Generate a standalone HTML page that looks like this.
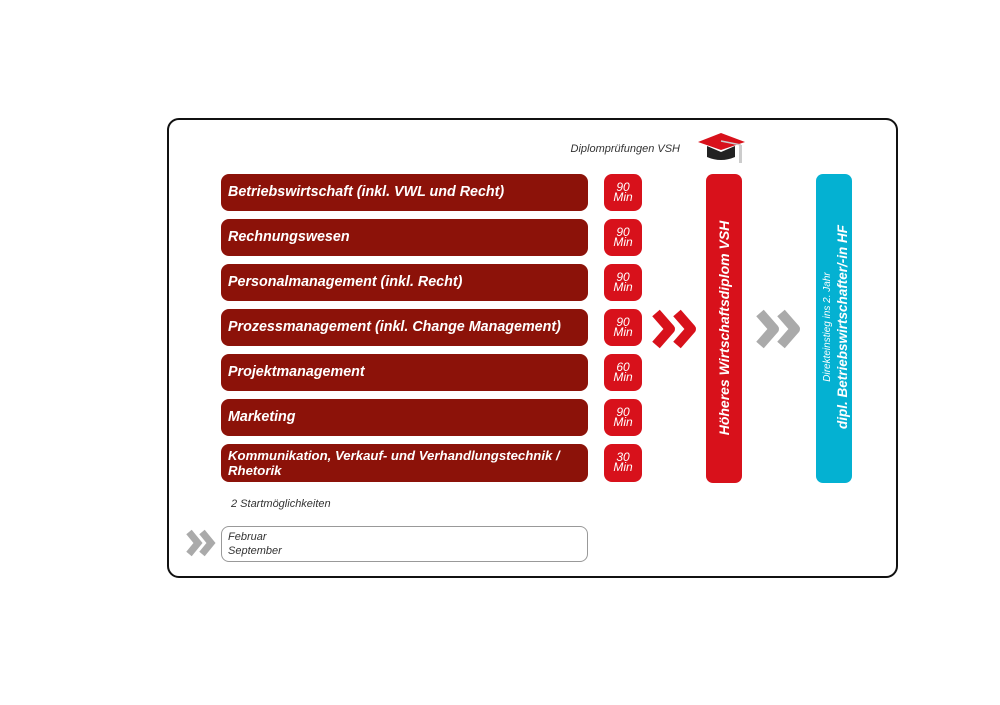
<!DOCTYPE html>
<html><head><meta charset="utf-8"><style>
body{margin:0;width:1000px;height:705px;background:#fff;position:relative;font-family:"Liberation Sans","DejaVu Sans",sans-serif;overflow:hidden}
.a{position:absolute}
.frame{left:167px;top:118px;width:727px;height:456px;border:2px solid #111;border-radius:12px}
.bar{left:221px;width:367px;height:37px;background:#8c1209;border-radius:8px;color:#fff;font-weight:bold;font-style:italic;font-size:14.3px;line-height:37px;padding-left:7px;box-sizing:border-box}
.min{left:604px;width:38px;height:37px;background:#d8111b;border-radius:8px;color:#fff;font-style:italic;font-size:12px;line-height:10px;text-align:center;box-sizing:border-box;padding-top:8px}
.vt{transform:rotate(-90deg);white-space:nowrap;color:#fff;font-style:italic;text-align:center}
</style></head><body>
<div class="a frame"></div>
<div class="a" style="left:520px;top:143px;width:160px;text-align:right;font-size:11px;font-style:italic;color:#333">Diplomprüfungen VSH</div>
<svg class="a" style="left:695px;top:130px" width="56" height="36" viewBox="0 0 56 36">
<polygon points="3,12 26,3 50,12 26,20" fill="#d8111b"/>
<path d="M12,16 L12,27 Q26,33 40,27 L40,16 L26,22 Z" fill="#222"/>
<line x1="26" y1="11" x2="46" y2="15" stroke="#ccc" stroke-width="1.5"/>
<rect x="44" y="15" width="3" height="18" fill="#ccc"/>
</svg>
<div class="a bar" style="top:174px">Betriebswirtschaft (inkl. VWL und Recht)</div>
<div class="a bar" style="top:219px">Rechnungswesen</div>
<div class="a bar" style="top:264px">Personalmanagement (inkl. Recht)</div>
<div class="a bar" style="top:309px">Prozessmanagement (inkl. Change Management)</div>
<div class="a bar" style="top:354px">Projektmanagement</div>
<div class="a bar" style="top:399px">Marketing</div>
<div class="a bar" style="top:444px;height:38px;line-height:15px;font-size:13.2px;padding-top:4px">Kommunikation, Verkauf- und Verhandlungstechnik /<br>Rhetorik</div>
<div class="a min" style="top:174px">90<br>Min</div>
<div class="a min" style="top:219px">90<br>Min</div>
<div class="a min" style="top:264px">90<br>Min</div>
<div class="a min" style="top:309px">90<br>Min</div>
<div class="a min" style="top:354px">60<br>Min</div>
<div class="a min" style="top:399px">90<br>Min</div>
<div class="a min" style="top:444px;height:38px">30<br>Min</div>
<svg class="a" style="left:648px;top:308px" width="54" height="42"><polyline points="8,5 22,21 8,37" fill="none" stroke="#d8111b" stroke-width="10" stroke-linejoin="round"/><polyline points="29,5 43,21 29,37" fill="none" stroke="#d8111b" stroke-width="10" stroke-linejoin="round"/></svg>
<svg class="a" style="left:752px;top:308px" width="54" height="42"><polyline points="8,5 22,21 8,37" fill="none" stroke="#aaa" stroke-width="10" stroke-linejoin="round"/><polyline points="29,5 43,21 29,37" fill="none" stroke="#aaa" stroke-width="10" stroke-linejoin="round"/></svg>
<div class="a" style="left:706px;top:174px;width:36px;height:309px;background:#d8111b;border-radius:7px"></div>
<div class="a vt" style="left:574px;top:318px;width:300px;font-size:14px;font-weight:bold;line-height:20px">Höheres Wirtschaftsdiplom VSH</div>
<div class="a" style="left:816px;top:174px;width:36px;height:309px;background:#04b1d2;border-radius:7px"></div>
<div class="a vt" style="left:684px;top:311px;width:300px;line-height:15px"><span style="font-size:10px">Direkteinstieg ins 2. Jahr</span><br><span style="font-size:13.5px;font-weight:bold">dipl. Betriebswirtschafter/-in HF</span></div>
<div class="a" style="left:231px;top:498px;font-size:11px;font-style:italic;color:#333">2 Startmöglichkeiten</div>
<svg class="a" style="left:183px;top:528px" width="36" height="30"><polyline points="6,4 15,15 6,26" fill="none" stroke="#aaa" stroke-width="7"/><polyline points="19,4 28,15 19,26" fill="none" stroke="#aaa" stroke-width="7"/></svg>
<div class="a" style="left:221px;top:526px;width:367px;height:36px;border:1.5px solid #999;border-radius:8px;box-sizing:border-box;padding:3px 6px;font-size:11px;font-style:italic;color:#333;line-height:14px">Februar<br>September</div>
</body></html>
